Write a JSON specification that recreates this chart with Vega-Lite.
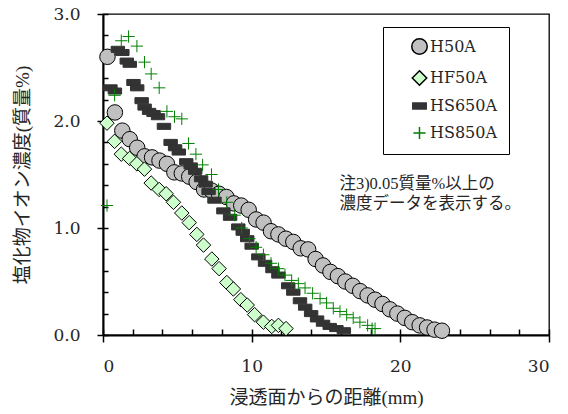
{
  "$schema": "https://vega.github.io/schema/vega-lite/v6.json",
  "width": 446,
  "height": 321,
  "autosize": {"type": "none"},
  "padding": {"left": 103, "top": 14, "right": 19, "bottom": 79},
  "background": "white",
  "config": {
    "view": {"stroke": "black", "strokeWidth": 1.3},
    "axis": {
      "domainColor": "black", "domainWidth": 2, "tickColor": "black", "tickWidth": 1.5,
      "labelFont": "DejaVu Serif", "labelFontSize": 17, "labelColor": "#262626",
      "titleFont": "Liberation Serif, Noto Sans CJK JP", "titleFontSize": 19, "titleFontWeight": "normal", "titleColor": "#262626",
      "grid": false
    }
  },
  "layer": [
    {
      "data": {"values": [
        {"s":"H50A","x":0.3,"y":2.60},{"s":"H50A","x":0.8,"y":2.08},{"s":"H50A","x":1.3,"y":1.91},{"s":"H50A","x":1.8,"y":1.83},
        {"s":"H50A","x":2.3,"y":1.75},{"s":"H50A","x":2.8,"y":1.67},{"s":"H50A","x":3.3,"y":1.66},{"s":"H50A","x":3.8,"y":1.63},
        {"s":"H50A","x":4.3,"y":1.60},{"s":"H50A","x":4.8,"y":1.52},{"s":"H50A","x":5.3,"y":1.51},{"s":"H50A","x":5.8,"y":1.48},
        {"s":"H50A","x":6.3,"y":1.43},{"s":"H50A","x":6.8,"y":1.36},{"s":"H50A","x":7.3,"y":1.35},{"s":"H50A","x":7.8,"y":1.32},
        {"s":"H50A","x":8.3,"y":1.29},{"s":"H50A","x":8.8,"y":1.23},{"s":"H50A","x":9.3,"y":1.21},{"s":"H50A","x":9.8,"y":1.17},
        {"s":"H50A","x":10.3,"y":1.08},{"s":"H50A","x":10.8,"y":1.05},{"s":"H50A","x":11.3,"y":0.97},{"s":"H50A","x":11.8,"y":0.94},
        {"s":"H50A","x":12.3,"y":0.90},{"s":"H50A","x":12.8,"y":0.87},{"s":"H50A","x":13.3,"y":0.81},{"s":"H50A","x":13.8,"y":0.80},
        {"s":"H50A","x":14.3,"y":0.71},{"s":"H50A","x":14.8,"y":0.65},{"s":"H50A","x":15.3,"y":0.59},{"s":"H50A","x":15.8,"y":0.55},
        {"s":"H50A","x":16.3,"y":0.50},{"s":"H50A","x":16.8,"y":0.46},{"s":"H50A","x":17.3,"y":0.41},{"s":"H50A","x":17.8,"y":0.37},
        {"s":"H50A","x":18.3,"y":0.33},{"s":"H50A","x":18.8,"y":0.29},{"s":"H50A","x":19.3,"y":0.24},{"s":"H50A","x":19.8,"y":0.20},
        {"s":"H50A","x":20.3,"y":0.16},{"s":"H50A","x":20.8,"y":0.12},{"s":"H50A","x":21.3,"y":0.09},{"s":"H50A","x":21.8,"y":0.07},
        {"s":"H50A","x":22.3,"y":0.05},{"s":"H50A","x":22.8,"y":0.04},

        {"s":"HF50A","x":0.27,"y":1.98},{"s":"HF50A","x":0.78,"y":1.81},{"s":"HF50A","x":1.23,"y":1.69},{"s":"HF50A","x":1.79,"y":1.65},
        {"s":"HF50A","x":2.28,"y":1.60},{"s":"HF50A","x":2.79,"y":1.55},{"s":"HF50A","x":3.24,"y":1.42},{"s":"HF50A","x":3.78,"y":1.36},
        {"s":"HF50A","x":4.25,"y":1.32},{"s":"HF50A","x":4.74,"y":1.24},{"s":"HF50A","x":5.30,"y":1.14},{"s":"HF50A","x":5.80,"y":1.05},
        {"s":"HF50A","x":6.31,"y":0.94},{"s":"HF50A","x":6.76,"y":0.84},{"s":"HF50A","x":7.32,"y":0.71},{"s":"HF50A","x":7.81,"y":0.62},
        {"s":"HF50A","x":8.33,"y":0.49},{"s":"HF50A","x":8.77,"y":0.43},{"s":"HF50A","x":9.27,"y":0.33},{"s":"HF50A","x":9.7,"y":0.28},
        {"s":"HF50A","x":10.2,"y":0.19},{"s":"HF50A","x":10.79,"y":0.12},{"s":"HF50A","x":11.35,"y":0.08},{"s":"HF50A","x":11.8,"y":0.09},
        {"s":"HF50A","x":12.31,"y":0.06},

        {"s":"HS650A","x":0.5,"y":2.31},{"s":"HS650A","x":0.8,"y":2.28},{"s":"HS650A","x":1.0,"y":2.67},{"s":"HS650A","x":1.3,"y":2.64},
        {"s":"HS650A","x":1.6,"y":2.56},{"s":"HS650A","x":1.8,"y":2.53},{"s":"HS650A","x":2.05,"y":2.36},{"s":"HS650A","x":2.3,"y":2.31},
        {"s":"HS650A","x":2.6,"y":2.19},{"s":"HS650A","x":2.8,"y":2.13},{"s":"HS650A","x":3.1,"y":2.09},{"s":"HS650A","x":3.4,"y":2.07},
        {"s":"HS650A","x":3.7,"y":2.04},{"s":"HS650A","x":4.1,"y":1.95},{"s":"HS650A","x":4.55,"y":1.80},{"s":"HS650A","x":4.85,"y":1.75},
        {"s":"HS650A","x":5.1,"y":1.71},{"s":"HS650A","x":5.6,"y":1.62},{"s":"HS650A","x":5.9,"y":1.58},{"s":"HS650A","x":6.2,"y":1.53},
        {"s":"HS650A","x":6.6,"y":1.46},{"s":"HS650A","x":6.9,"y":1.41},{"s":"HS650A","x":7.1,"y":1.34},{"s":"HS650A","x":7.5,"y":1.26},
        {"s":"HS650A","x":8.1,"y":1.16},{"s":"HS650A","x":8.55,"y":1.10},{"s":"HS650A","x":9.1,"y":1.01},{"s":"HS650A","x":9.4,"y":0.96},
        {"s":"HS650A","x":9.7,"y":0.90},{"s":"HS650A","x":10.0,"y":0.83},{"s":"HS650A","x":10.45,"y":0.73},{"s":"HS650A","x":10.9,"y":0.67},
        {"s":"HS650A","x":11.4,"y":0.61},{"s":"HS650A","x":11.8,"y":0.56},{"s":"HS650A","x":12.46,"y":0.46},{"s":"HS650A","x":12.8,"y":0.40},
        {"s":"HS650A","x":13.25,"y":0.32},{"s":"HS650A","x":13.6,"y":0.26},{"s":"HS650A","x":14.0,"y":0.20},{"s":"HS650A","x":14.4,"y":0.15},
        {"s":"HS650A","x":14.8,"y":0.11},{"s":"HS650A","x":15.25,"y":0.08},{"s":"HS650A","x":15.7,"y":0.06},{"s":"HS650A","x":16.2,"y":0.04},

        {"s":"HS850A","x":0.27,"y":1.21},{"s":"HS850A","x":0.78,"y":2.24},{"s":"HS850A","x":1.23,"y":2.75},{"s":"HS850A","x":1.72,"y":2.79},
        {"s":"HS850A","x":2.28,"y":2.70},{"s":"HS850A","x":2.79,"y":2.55},{"s":"HS850A","x":3.24,"y":2.44},{"s":"HS850A","x":3.78,"y":2.31},
        {"s":"HS850A","x":4.30,"y":2.09},{"s":"HS850A","x":4.81,"y":2.04},{"s":"HS850A","x":5.30,"y":2.02},{"s":"HS850A","x":5.75,"y":1.79},
        {"s":"HS850A","x":6.25,"y":1.69},{"s":"HS850A","x":6.7,"y":1.59},{"s":"HS850A","x":7.3,"y":1.50},{"s":"HS850A","x":7.77,"y":1.36},
        {"s":"HS850A","x":8.33,"y":1.24},{"s":"HS850A","x":8.86,"y":1.12},{"s":"HS850A","x":9.33,"y":1.00},{"s":"HS850A","x":9.85,"y":0.90},
        {"s":"HS850A","x":10.3,"y":0.82},{"s":"HS850A","x":10.79,"y":0.75},{"s":"HS850A","x":11.3,"y":0.67},{"s":"HS850A","x":11.8,"y":0.62},
        {"s":"HS850A","x":12.24,"y":0.56},{"s":"HS850A","x":12.69,"y":0.51},{"s":"HS850A","x":13.14,"y":0.48},{"s":"HS850A","x":13.59,"y":0.44},
        {"s":"HS850A","x":14.1,"y":0.39},{"s":"HS850A","x":14.6,"y":0.34},{"s":"HS850A","x":15.04,"y":0.30},{"s":"HS850A","x":15.49,"y":0.25},
        {"s":"HS850A","x":15.94,"y":0.22},{"s":"HS850A","x":16.39,"y":0.19},{"s":"HS850A","x":16.83,"y":0.16},{"s":"HS850A","x":17.28,"y":0.12},
        {"s":"HS850A","x":17.8,"y":0.09},{"s":"HS850A","x":18.1,"y":0.06},{"s":"HS850A","x":18.3,"y":0.06}
      ]},
      "mark": {"type": "point", "filled": true, "strokeWidth": 1, "opacity": 1},
      "encoding": {
        "x": {"field": "x", "type": "quantitative", "scale": {"domain": [0, 30], "nice": false},
              "axis": {"orient": "bottom", "values": [0, 10, 20, 30], "tickSize": 7, "labelPadding": 16, "format": "d",
                       "title": "浸透面からの距離(mm)", "titlePadding": 14}},
        "y": {"field": "y", "type": "quantitative", "scale": {"domain": [0, 3], "nice": false},
              "axis": {"orient": "left", "values": [0, 1, 2, 3], "tickSize": 6, "labelPadding": 17, "format": ".1f",
                       "title": "塩化物イオン濃度(質量%)", "titlePadding": 20}},
        "shape": {"field": "s", "type": "nominal",
                  "scale": {"domain": ["H50A", "HF50A", "HS650A", "HS850A"],
                            "range": ["circle", "diamond", "M-1,-0.45H1V0.45H-1Z", "M-1,0H1M0,-1V1"]},
                  "legend": {"orient": "none", "legendX": 280, "legendY": 13, "title": null,
                             "strokeColor": "black", "fillColor": "white", "padding": 11,
                             "labelFont": "DejaVu Serif", "labelFontSize": 16, "labelColor": "#262626",
                             "rowPadding": 9, "symbolOffset": 17, "labelOffset": 2}},
        "color": {"field": "s", "type": "nominal",
                  "scale": {"domain": ["H50A", "HF50A", "HS650A", "HS850A"],
                            "range": ["#c0c0c0", "#ccffcc", "#333333", "transparent"]}},
        "stroke": {"field": "s", "type": "nominal",
                   "scale": {"domain": ["H50A", "HF50A", "HS650A", "HS850A"],
                             "range": ["#000000", "#000000", "#333333", "#008000"]}},
        "size": {"field": "s", "type": "nominal",
                 "scale": {"domain": ["H50A", "HF50A", "HS650A", "HS850A"],
                           "range": [240, 150, 81, 144]}}
      }
    },
    {
      "data": {"values": [{"x": 0, "y": 0}, {"x": 30, "y": 3}]},
      "mark": {"type": "point", "opacity": 0},
      "encoding": {
        "x": {"field": "x", "type": "quantitative",
              "axis": {"orient": "bottom", "values": [0, 2, 4, 6, 8, 10, 12, 14, 16, 18, 20, 22, 24, 26, 28, 30],
                       "tickSize": -6, "labels": false, "domain": false, "title": null}},
        "y": {"field": "y", "type": "quantitative",
              "axis": {"orient": "left", "values": [0, 0.2, 0.4, 0.6, 0.8, 1, 1.2, 1.4, 1.6, 1.8, 2, 2.2, 2.4, 2.6, 2.8, 3],
                       "tickSize": -5, "labels": false, "domain": false, "title": null}}
      }
    },
    {
      "data": {"values": [{"note": "注3)0.05質量%以上の"}]},
      "mark": {"type": "text", "align": "left", "baseline": "top", "font": "Liberation Serif, Noto Sans CJK JP", "fontSize": 16.5,
               "fontWeight": 400, "lineHeight": 20, "color": "#262626"},
      "encoding": {
        "x": {"datum": 15.9, "type": "quantitative", "axis": null},
        "y": {"datum": 1.49, "type": "quantitative", "axis": null},
        "text": {"value": ["注3)0.05質量%以上の", "濃度データを表示する。"]}
      }
    }
  ],
  "resolve": {"axis": {"x": "independent", "y": "independent"}}
}
